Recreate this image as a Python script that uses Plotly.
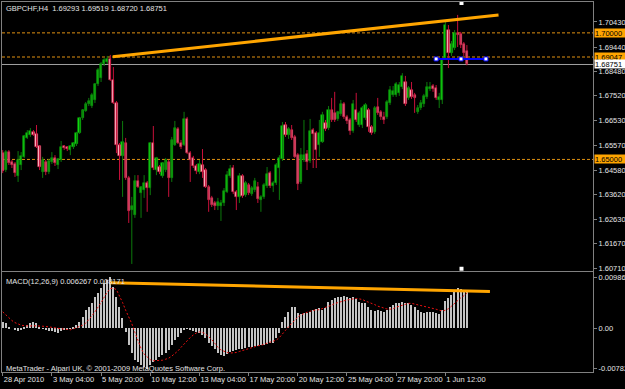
import plotly.graph_objects as go

# ---------------- data ----------------
date_ticks = [0, 16, 32, 48, 64, 80, 96, 112, 128, 144]
date_labels = ["28 Apr 2010", "3 May 04:00", "5 May 20:00", "10 May 12:00", "13 May 04:00",
               "17 May 20:00", "20 May 12:00", "25 May 04:00", "27 May 20:00", "1 Jun 12:00"]

opens = [
    1.6525, 1.6458, 1.6529, 1.6490, 1.6482, 1.6435, 1.6478, 1.6510, 1.6585, 1.6597,
    1.6609, 1.6601, 1.6553, 1.6450, 1.6490, 1.6450, 1.6490, 1.6506, 1.6478, 1.6498,
    1.6553, 1.6549, 1.6537, 1.6549, 1.6561, 1.6605, 1.6664, 1.6692, 1.6719, 1.6711,
    1.6735, 1.6798, 1.6822, 1.6877, 1.6885, 1.6897, 1.6814, 1.6723, 1.6557, 1.6514,
    1.6565, 1.6427, 1.6300, 1.6281, 1.6415, 1.6367, 1.6379, 1.6407, 1.6387, 1.6565,
    1.6458, 1.6470, 1.6435, 1.6458, 1.6490, 1.6427, 1.6557, 1.6620, 1.6565, 1.6557,
    1.6660, 1.6525, 1.6506, 1.6474, 1.6450, 1.6478, 1.6458, 1.6391, 1.6348, 1.6328,
    1.6316, 1.6316, 1.6328, 1.6371, 1.6435, 1.6466, 1.6371, 1.6352, 1.6435, 1.6359,
    1.6399, 1.6363, 1.6379, 1.6391, 1.6340, 1.6352, 1.6395, 1.6446, 1.6395, 1.6407,
    1.6466, 1.6502, 1.6636, 1.6597, 1.6616, 1.6589, 1.6517, 1.6411, 1.6498, 1.6521,
    1.6494, 1.6616, 1.6605, 1.6557, 1.6569, 1.6644, 1.6624, 1.6695, 1.6684, 1.6660,
    1.6680, 1.6719, 1.6668, 1.6656, 1.6612, 1.6695, 1.6636, 1.6636, 1.6664, 1.6695,
    1.6628, 1.6609, 1.6707, 1.6688, 1.6668, 1.6668, 1.6723, 1.6755, 1.6755, 1.6763,
    1.6786, 1.6806, 1.6743, 1.6774, 1.6755, 1.6688, 1.6703, 1.6719, 1.6747, 1.6778,
    1.6790, 1.6782, 1.6735, 1.6735, 1.6901, 1.7011, 1.6920, 1.6940, 1.7000, 1.6996,
    1.6956, 1.69293,
]
highs = [
    1.6537, 1.6537, 1.6537, 1.6498, 1.6490, 1.6533, 1.6529, 1.6597, 1.6616, 1.6624,
    1.6616, 1.6636, 1.6557, 1.6510, 1.6498, 1.6502, 1.6529, 1.6517, 1.6506, 1.6573,
    1.6557, 1.6553, 1.6557, 1.6569, 1.6609, 1.6668, 1.6699, 1.6727, 1.6743, 1.6763,
    1.6802, 1.6861, 1.6885, 1.6901, 1.6909, 1.6913, 1.6865, 1.6731, 1.6565, 1.6652,
    1.6585, 1.6435, 1.6352, 1.6438, 1.6438, 1.6395, 1.6438, 1.6415, 1.6569, 1.6632,
    1.6510, 1.6478, 1.6490, 1.6506, 1.6498, 1.6589, 1.6652, 1.6628, 1.6577, 1.6688,
    1.6668, 1.6533, 1.6514, 1.6482, 1.6498, 1.6541, 1.6466, 1.6399, 1.6356, 1.6336,
    1.6348, 1.6340, 1.6387, 1.6454, 1.6478, 1.6478, 1.6379, 1.6446, 1.6442, 1.6415,
    1.6407, 1.6395, 1.6427, 1.6411, 1.6359, 1.6407, 1.6470, 1.6454, 1.6415, 1.6486,
    1.6517, 1.6648, 1.6648, 1.6628, 1.6636, 1.6597, 1.6525, 1.6545, 1.6656, 1.6537,
    1.6660, 1.6624, 1.6612, 1.6656, 1.6688, 1.6656, 1.6711, 1.6743, 1.6767, 1.6692,
    1.6735, 1.6727, 1.6676, 1.6664, 1.6735, 1.6763, 1.6692, 1.6711, 1.6723, 1.6703,
    1.6636, 1.6711, 1.6743, 1.6695, 1.6688, 1.6735, 1.6790, 1.6790, 1.6806, 1.6806,
    1.6841, 1.6830, 1.6790, 1.6806, 1.6763, 1.6715, 1.6735, 1.6759, 1.6806, 1.6806,
    1.6798, 1.6794, 1.6763, 1.6901, 1.7047, 1.7031, 1.6968, 1.7011, 1.7071, 1.7004,
    1.6964, 1.69519,
]
lows = [
    1.6446, 1.6450, 1.6478, 1.6466, 1.6431, 1.6411, 1.6458, 1.6506, 1.6581, 1.6589,
    1.6593, 1.6545, 1.6458, 1.6427, 1.6438, 1.6442, 1.6482, 1.6474, 1.6462, 1.6490,
    1.6537, 1.6533, 1.6517, 1.6541, 1.6553, 1.6601, 1.6656, 1.6688, 1.6711, 1.6703,
    1.6723, 1.6790, 1.6806, 1.6869, 1.6877, 1.6810, 1.6719, 1.6525, 1.6419, 1.6352,
    1.6419, 1.6249, 1.6087, 1.6269, 1.6387, 1.6269, 1.6348, 1.6293, 1.6359, 1.6458,
    1.6438, 1.6442, 1.6427, 1.6450, 1.6352, 1.6411, 1.6553, 1.6561, 1.6541, 1.6553,
    1.6521, 1.6411, 1.6466, 1.6442, 1.6442, 1.6427, 1.6387, 1.6293, 1.6312, 1.6300,
    1.6300, 1.6257, 1.6316, 1.6367, 1.6427, 1.6363, 1.6300, 1.6328, 1.6348, 1.6352,
    1.6359, 1.6356, 1.6371, 1.6328, 1.6293, 1.6344, 1.6387, 1.6387, 1.6371, 1.6399,
    1.6340, 1.6494, 1.6589, 1.6581, 1.6577, 1.6506, 1.6379, 1.6403, 1.6490, 1.6458,
    1.6486, 1.6466, 1.6466, 1.6510, 1.6565, 1.6612, 1.6616, 1.6648, 1.6648, 1.6652,
    1.6672, 1.6660, 1.6640, 1.6597, 1.6605, 1.6648, 1.6628, 1.6624, 1.6656, 1.6609,
    1.6597, 1.6601, 1.6676, 1.6656, 1.6640, 1.6660, 1.6715, 1.6747, 1.6747, 1.6751,
    1.6778, 1.6711, 1.6735, 1.6739, 1.6684, 1.6680, 1.6695, 1.6707, 1.6739, 1.6770,
    1.6767, 1.6735, 1.6703, 1.6719, 1.6893, 1.6861, 1.6909, 1.6932, 1.6944, 1.6940,
    1.6909, 1.68720,
]
closes = [
    1.6454, 1.6529, 1.6486, 1.6478, 1.6446, 1.6498, 1.6514, 1.6593, 1.6605, 1.6612,
    1.6597, 1.6549, 1.6470, 1.6498, 1.6450, 1.6494, 1.6506, 1.6486, 1.6502, 1.6549,
    1.6545, 1.6541, 1.6553, 1.6565, 1.6605, 1.6664, 1.6695, 1.6719, 1.6731, 1.6755,
    1.6798, 1.6853, 1.6877, 1.6893, 1.6897, 1.6814, 1.6723, 1.6557, 1.6514, 1.6569,
    1.6427, 1.6297, 1.6316, 1.6415, 1.6391, 1.6391, 1.6407, 1.6387, 1.6565, 1.6466,
    1.6506, 1.6450, 1.6486, 1.6498, 1.6427, 1.6577, 1.6624, 1.6565, 1.6549, 1.6660,
    1.6525, 1.6498, 1.6474, 1.6454, 1.6482, 1.6450, 1.6391, 1.6340, 1.6320, 1.6316,
    1.6332, 1.6328, 1.6375, 1.6438, 1.6462, 1.6371, 1.6352, 1.6435, 1.6356, 1.6407,
    1.6367, 1.6387, 1.6415, 1.6344, 1.6352, 1.6399, 1.6442, 1.6395, 1.6407, 1.6478,
    1.6506, 1.6632, 1.6597, 1.6620, 1.6585, 1.6510, 1.6403, 1.6517, 1.6517, 1.6490,
    1.6612, 1.6601, 1.6537, 1.6605, 1.6676, 1.6620, 1.6695, 1.6656, 1.6656, 1.6688,
    1.6719, 1.6668, 1.6652, 1.6612, 1.6719, 1.6656, 1.6684, 1.6703, 1.6715, 1.6628,
    1.6605, 1.6703, 1.6684, 1.6668, 1.6656, 1.6727, 1.6774, 1.6770, 1.6798, 1.6794,
    1.6830, 1.6719, 1.6782, 1.6747, 1.6743, 1.6703, 1.6723, 1.6751, 1.6786, 1.6786,
    1.6778, 1.6743, 1.6747, 1.6893, 1.7031, 1.6920, 1.6956, 1.7000, 1.6992, 1.6952,
    1.6920, 1.68751,
]

macd_main = [
    0.00129, 0.00097, 0.00032, 0.00000, -0.00032, -0.00045, -0.00032, 0.00032, 0.00065, 0.00110,
    0.00129, 0.00097, 0.00032, 0.00003, -0.00032, -0.00045, -0.00045, -0.00065, -0.00084, -0.00045,
    -0.00032, -0.00032, 0.00003, 0.00032, 0.00065, 0.00129, 0.00227, 0.00356, 0.00421, 0.00498,
    0.00615, 0.00680, 0.00777, 0.00874, 0.00940, 0.009869, 0.00809, 0.00615, 0.00421, 0.00194,
    -0.00065, -0.00324, -0.00485, -0.00615, -0.00647, -0.00712, -0.00744, -0.007825, -0.00712, -0.00647,
    -0.00615, -0.00550, -0.00518, -0.00472, -0.00421, -0.00324, -0.00227, -0.00162, -0.00097, -0.00032,
    -0.00005, -0.00019, -0.00045, -0.00065, -0.00084, -0.00129, -0.00194, -0.00278, -0.00343, -0.00408,
    -0.00472, -0.00518, -0.00537, -0.00498, -0.00453, -0.00434, -0.00421, -0.00408, -0.00408, -0.00388,
    -0.00369, -0.00356, -0.00343, -0.00343, -0.00330, -0.00317, -0.00304, -0.00291, -0.00278, -0.00194,
    -0.00084, 0.00129, 0.00227, 0.00324, 0.00421, 0.00408, 0.00291, 0.00278, 0.00291, 0.00291,
    0.00324, 0.00356, 0.00369, 0.00388, 0.00356, 0.00388, 0.00518, 0.00550, 0.00583, 0.00602,
    0.00615, 0.00628, 0.00615, 0.00583, 0.00615, 0.00563, 0.00518, 0.00485, 0.00485, 0.00408,
    0.00356, 0.00343, 0.00356, 0.00343, 0.00324, 0.00356, 0.00421, 0.00453, 0.00485, 0.00498,
    0.00518, 0.00485, 0.00498, 0.00453, 0.00421, 0.00356, 0.00324, 0.00304, 0.00324, 0.00324,
    0.00324, 0.00291, 0.00278, 0.00356, 0.00537, 0.00583, 0.00647, 0.00712, 0.00777, 0.00757,
    0.00744, 0.00700,
]
macd_signal = [
    0.0032, 0.0026, 0.0020, 0.0015, 0.0011, 0.0008, 0.0006, 0.0005, 0.00045, 0.00045,
    0.0005, 0.0005, 0.00045, 0.0004, 0.00035, 0.0003, 0.0002, 0.0001, 0.0, -0.0001,
    -0.0002, -0.0003, -0.0003, -0.0001, 0.0001, 0.0003, 0.0006, 0.0010, 0.0016, 0.0024,
    0.0032, 0.0040, 0.0050, 0.0060, 0.0070, 0.0077, 0.0078, 0.0075, 0.0064, 0.0050,
    0.0035, 0.0022, 0.0009, -0.0008, -0.0025, -0.0039, -0.0050, -0.0056, -0.0061, -0.0063,
    -0.0063, -0.0063, -0.0062, -0.0060, -0.0058, -0.0054, -0.0049, -0.0044, -0.0037, -0.0030,
    -0.0023, -0.0018, -0.0013, -0.0009, -0.0007, -0.0008, -0.0011, -0.0016, -0.0022, -0.0029,
    -0.0037, -0.0042, -0.0045, -0.0047, -0.0048, -0.0048, -0.0047, -0.0045, -0.0043, -0.0041,
    -0.0039, -0.0037, -0.0036, -0.0034, -0.0033, -0.0031, -0.0030, -0.0028, -0.0026, -0.0023,
    -0.0018, -0.0012, -0.0004, 0.0003, 0.0010, 0.0016, 0.0022, 0.0026, 0.0029, 0.0031,
    0.0033, 0.0035, 0.0036, 0.0036, 0.0038, 0.0040, 0.0042, 0.0045, 0.0048, 0.0050,
    0.0052, 0.0054, 0.0055, 0.0056, 0.0057, 0.0058, 0.0057, 0.0056, 0.0053, 0.0051,
    0.0049, 0.0046, 0.0043, 0.0041, 0.0039, 0.00375, 0.0037, 0.0038, 0.0041, 0.0043,
    0.0045, 0.0047, 0.00485, 0.00485, 0.0047, 0.0046, 0.0044, 0.0043, 0.0042, 0.0041,
    0.0039, 0.0037, 0.0035, 0.0034, 0.0035, 0.0038, 0.0043, 0.0049, 0.0054, 0.0059,
    0.0063, 0.0068,
]

price_ticks = [1.70430, 1.69440, 1.68480, 1.67520, 1.66530, 1.65570, 1.64580,
               1.63620, 1.62630, 1.61670, 1.60710]
macd_ticks = [0.009869, 0.0, -0.007825]
macd_tick_text = ["0.009869", "0.00", "-0.007825"]
level_prices = [1.70000, 1.69047, 1.65000]
bid_price = 1.68751

trend_main_x = [35.8, 161.3]
trend_main_y = [1.6906, 1.7071]
trend_macd_x = [34.9, 158.5]
trend_macd_y = [0.00885, 0.00715]
blue_line_x = [141.0, 149.1, 157.2]
blue_line_y = [1.6897, 1.6897, 1.6897]
shift_marker_x = [149.25, 149.25]
shift_marker_y = [1.7118, 1.6068]

title_text = "GBPCHF,H4  1.69293 1.69519 1.68720 1.68751"
macd_text = "MACD(12,26,9) 0.006267 0.008171"
copyright_text = "MetaTrader - Alpari UK, \u00a9 2001-2009 MetaQuotes Software Corp."

# ---------------- figure ----------------
FONT = "Liberation Sans, Arial, sans-serif"
TXT = "#e4e4e4"
FRAME = "#808080"
ORANGE = "#ffa500"

n = len(opens)
xs = list(range(n))
bull = [i for i in xs if closes[i] >= opens[i]]
bear = [i for i in xs if closes[i] < opens[i]]

fig = go.Figure()

def wick_trace(idx, color):
    wx, wy = [], []
    for i in idx:
        wx += [i, i, None]
        wy += [lows[i], highs[i], None]
    return go.Scatter(x=wx, y=wy, mode="lines", line=dict(color=color, width=1),
                      xaxis="x2", yaxis="y", hoverinfo="skip")

fig.add_trace(wick_trace(bull, "#0c7a0c"))
fig.add_trace(wick_trace(bear, "#c8103a"))

def body_trace(idx, fill, edge):
    return go.Bar(
        x=idx,
        y=[max(abs(closes[i] - opens[i]), 0.00015) for i in idx],
        base=[min(opens[i], closes[i]) for i in idx],
        width=0.72,
        marker=dict(color=fill, line=dict(color=edge, width=0.6)),
        xaxis="x2", yaxis="y", hoverinfo="skip")

fig.add_trace(body_trace(bull, "#10e010", "#0a9a0a"))
fig.add_trace(body_trace(bear, "#ffc0ca", "#d01840"))

# trend lines on main chart
fig.add_trace(go.Scatter(x=trend_main_x, y=trend_main_y, mode="lines",
                         line=dict(color=ORANGE, width=3), xaxis="x2", yaxis="y"))
fig.add_trace(go.Scatter(x=blue_line_x, y=blue_line_y, mode="lines+markers",
                         line=dict(color="#0000ff", width=2),
                         marker=dict(symbol="square", size=4, color="white",
                                     line=dict(color="#0000ff", width=1)),
                         xaxis="x2", yaxis="y"))
fig.add_trace(go.Scatter(x=shift_marker_x, y=shift_marker_y, mode="markers",
                         marker=dict(symbol="square", size=4, color="white"),
                         cliponaxis=False, xaxis="x2", yaxis="y"))

# MACD
fig.add_trace(go.Bar(x=xs, y=macd_main, width=0.4,
                     marker=dict(color="#c4c4c4", line=dict(width=0)),
                     xaxis="x", yaxis="y2", hoverinfo="skip"))
fig.add_trace(go.Scatter(x=xs, y=macd_signal, mode="lines",
                         line=dict(color="#ee1010", width=1, dash="2px,2px"),
                         xaxis="x", yaxis="y2"))
fig.add_trace(go.Scatter(x=trend_macd_x, y=trend_macd_y, mode="lines",
                         line=dict(color=ORANGE, width=3), xaxis="x", yaxis="y2"))

shapes = []
for p in level_prices:
    shapes.append(dict(type="line", xref="paper", x0=0, x1=1, yref="y", y0=p, y1=p,
                       line=dict(color="#e09010", width=1, dash="3px,2px"), layer="below"))
shapes.append(dict(type="line", xref="paper", x0=0, x1=1, yref="y", y0=bid_price, y1=bid_price,
                   line=dict(color="#a0a0a0", width=1), layer="below"))

annotations = [
    dict(text=title_text, xref="paper", x=0, xanchor="left", xshift=3,
         yref="paper", y=1, yanchor="top", yshift=-1, showarrow=False,
         font=dict(family=FONT, size=7.5, color=TXT), borderpad=0),
    dict(text=macd_text, xref="paper", x=0, xanchor="left", xshift=3,
         yref="y2 domain", y=1, yanchor="top", yshift=-4, showarrow=False,
         font=dict(family=FONT, size=7.5, color=TXT), borderpad=0),
    dict(text=copyright_text, xref="paper", x=0, xanchor="left", xshift=3,
         yref="y2 domain", y=0, yanchor="bottom", yshift=-2, showarrow=False,
         font=dict(family=FONT, size=7.5, color=TXT), borderpad=0),
]
for p in level_prices:
    annotations.append(dict(text=f"{p:.5f}", xref="paper", x=1, xanchor="left", xshift=1,
                            yref="y", y=p, yanchor="middle", showarrow=False,
                            bgcolor=ORANGE, width=31, height=8, align="left", borderpad=0,
                            font=dict(family=FONT, size=7.5, color="black")))
annotations.append(dict(text=f"{bid_price:.5f}", xref="paper", x=1, xanchor="left", xshift=1,
                        yref="y", y=bid_price, yanchor="middle", showarrow=False,
                        bgcolor="white", width=31, height=8, align="left", borderpad=0,
                        font=dict(family=FONT, size=7.5, color="black")))

axis_font = dict(family=FONT, size=7.5, color=TXT)
fig.update_layout(
    width=625, height=389,
    margin=dict(l=2, r=32, t=2, b=17, autoexpand=False),
    paper_bgcolor="black", plot_bgcolor="black",
    showlegend=False, barmode="overlay", bargap=0,
    shapes=shapes, annotations=annotations,
    xaxis=dict(domain=[0, 1], anchor="y2", range=[-0.23, 192.03],
               tickmode="array", tickvals=date_ticks, ticktext=date_labels,
               ticks="outside", ticklen=3, tickcolor=FRAME, tickangle=0,
               ticklabelposition="outside right", tickfont=axis_font,
               showline=True, linecolor=FRAME, linewidth=1, mirror=True,
               showgrid=False, zeroline=False, automargin=False),
    xaxis2=dict(domain=[0, 1], anchor="y", matches="x", showticklabels=False,
                ticks="", showline=True, linecolor=FRAME, linewidth=1, mirror=True,
                showgrid=False, zeroline=False, automargin=False),
    yaxis=dict(domain=[0.273, 1], anchor="x2", side="right",
               range=[1.60592, 1.71220], tickmode="array", tickvals=price_ticks,
               ticktext=[f"{v:.5f}" for v in price_ticks],
               ticks="outside", ticklen=3, tickcolor=FRAME, tickfont=axis_font,
               showline=True, linecolor=FRAME, linewidth=1, mirror=True,
               showgrid=False, zeroline=False, automargin=False),
    yaxis2=dict(domain=[0, 0.2703], anchor="x", side="right",
                range=[-0.008485, 0.010932], tickmode="array", tickvals=macd_ticks,
                ticktext=macd_tick_text,
                ticks="outside", ticklen=3, tickcolor=FRAME, tickfont=axis_font,
                showline=True, linecolor=FRAME, linewidth=1, mirror=True,
                showgrid=False, zeroline=False, automargin=False),
)

fig.write_html("out.html")
